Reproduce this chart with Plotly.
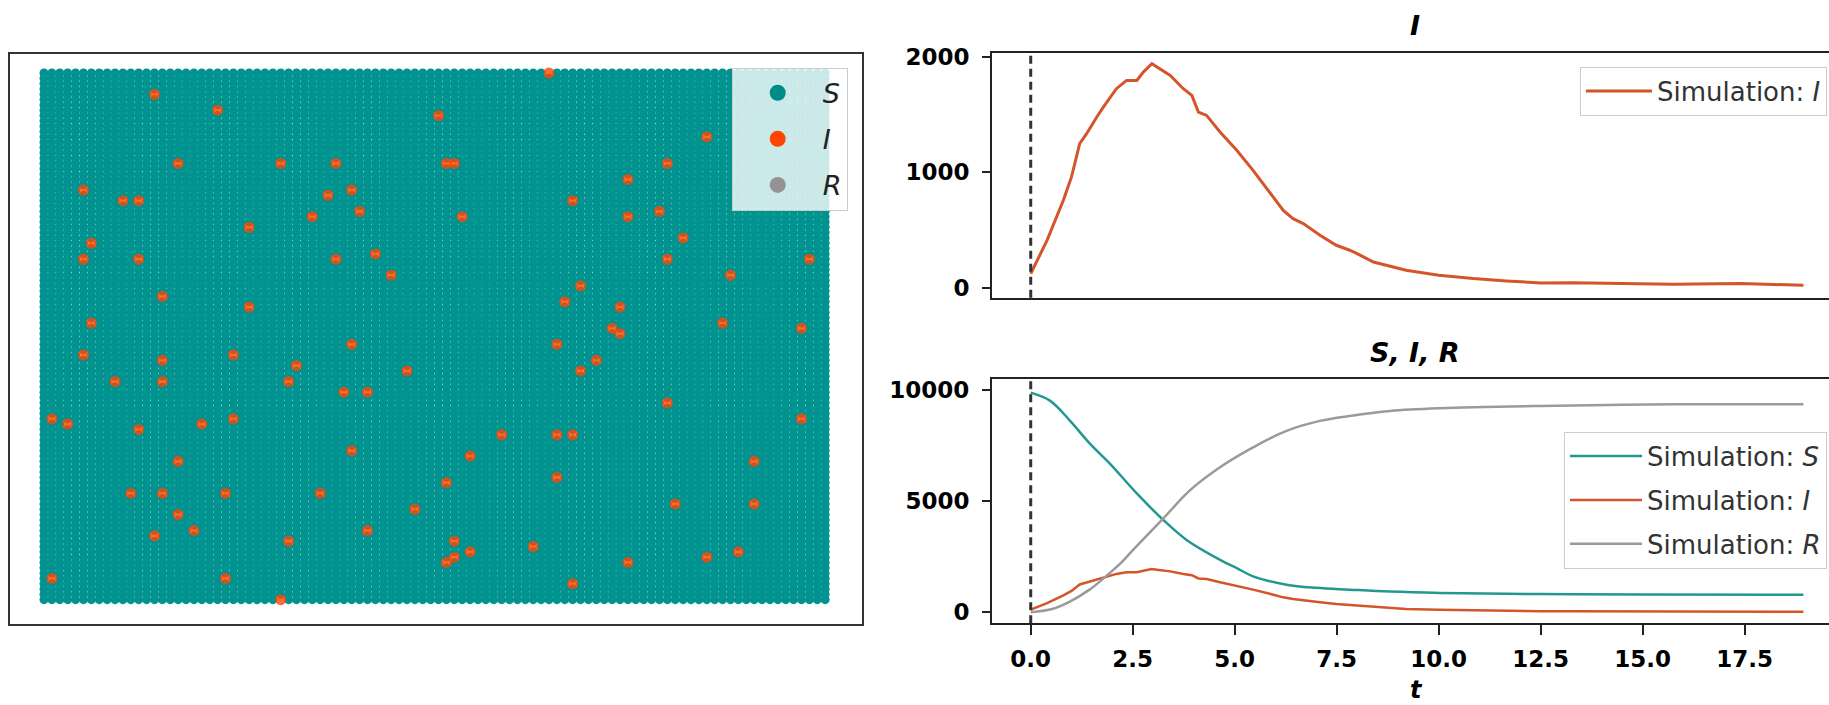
import plotly.graph_objects as go

# ---------------- data ----------------
GRID_SIDE = 100  # 100 x 100 lattice of agents

# initially infected agents (column, row counted from the top)
infected_col = [14, 22, 50, 17, 30, 37, 51, 52, 5, 10, 12, 36, 39, 40, 34, 53, 26, 6, 5, 12,
                42, 37, 44, 15, 26, 6, 39, 5, 15, 24, 32, 46, 9, 15, 64, 84, 79, 74, 67, 74,
                78, 81, 79, 97, 87, 68, 66, 73, 86, 96, 72, 73, 65, 70, 68, 31, 38, 41, 1, 3,
                12, 20, 24, 39, 17, 51, 11, 15, 23, 35, 17, 47, 19, 14, 41, 31, 52, 51, 52, 1,
                23, 30, 79, 96, 58, 65, 67, 54, 90, 65, 80, 90, 54, 62, 74, 84, 88, 67]
infected_row = [4, 7, 8, 17, 17, 17, 17, 17, 22, 24, 24, 23, 22, 26, 27, 27, 29, 32, 35, 35,
                34, 35, 38, 42, 44, 47, 51, 53, 54, 53, 55, 56, 58, 58, 0, 12, 17, 20, 24, 27,
                26, 31, 35, 35, 38, 40, 43, 44, 47, 48, 48, 49, 51, 54, 56, 58, 60, 60, 65, 66,
                67, 66, 65, 71, 73, 77, 79, 79, 79, 79, 83, 82, 86, 87, 86, 88, 88, 92, 91, 95,
                95, 99, 62, 65, 68, 68, 68, 72, 73, 76, 81, 81, 90, 89, 92, 91, 90, 96]

# simulated infected count I(t)
t_I = [0, 0.4, 0.8, 1.0, 1.2, 1.37, 1.62, 1.78, 2.1, 2.35,
       2.6, 2.76, 2.97, 3.09, 3.42, 3.74, 3.95, 4.11, 4.31, 4.64,
       5.05, 5.45, 5.86, 6.19, 6.43, 6.68, 7.09, 7.49, 7.82, 8.0,
       8.4, 9.2, 10.0, 10.85, 11.66, 12.5, 13.3, 14.1, 14.9, 15.75,
       16.6, 17.4, 18.2, 18.94]
I_vals = [120, 410, 757, 960, 1250, 1335, 1480, 1566, 1726, 1798,
          1798, 1870, 1943, 1914, 1841, 1726, 1668, 1523, 1494, 1350,
          1191, 1017, 829, 670, 598, 555, 454, 367, 324, 295,
          222, 150, 107, 78, 57, 40, 42, 40, 33, 29,
          32, 35, 27, 20]

# simulated susceptible count S(t)
t_S = [0, 0.47, 0.96, 1.45, 1.94, 2.6, 3.25, 3.82, 4.64, 5.05, 5.45, 6.27, 7.0, 7.82,
       8.8, 10.03, 12.5, 15.0, 18.94]
S_vals = [9900, 9540, 8640, 7600, 6700, 5354, 4157, 3260, 2363, 1987, 1614, 1242, 1100, 1018,
          930, 870, 820, 800, 790]

# simulated recovered count R(t)
t_R = [0, 0.5, 0.96, 1.45, 1.78, 2.2, 2.52, 3.25, 3.9, 4.64, 5.45, 6.27, 7.09, 7.82,
       8.81, 10.03, 12.48, 15.75, 18.94]
R_vals = [0, 130, 480, 1030, 1520, 2200, 2830, 4226, 5492, 6535, 7430, 8178, 8626, 8850,
          9074, 9194, 9297, 9373, 9373]

x_tick_vals = [0, 2.5, 5, 7.5, 10, 12.5, 15, 17.5]
x_tick_text = ["0.0", "2.5", "5.0", "7.5", "10.0", "12.5", "15.0", "17.5"]
top_y_ticks = [0, 1000, 2000]
top_y_text = ["0", "1000", "2000"]
bottom_y_ticks = [0, 5000, 10000]
bottom_y_text = ["0", "5000", "10000"]

# ---------------- colours ----------------
C_S_DOT = "#008b8b"
C_I_DOT = "#ff4500"
C_R_DOT = "#939393"
C_S_LINE = "#22998f"
C_I_LINE = "#d4542b"
C_R_LINE = "#9a9a9a"
AX = "#222222"

W, H = 1829, 705


def px_x(p):
    return p / W


def px_y(p):
    return 1 - p / H


# susceptible lattice cells = all cells not infected
inf_set = set(zip(infected_col, infected_row))
s_x, s_y = [], []
for r in range(GRID_SIDE):
    for c in range(GRID_SIDE):
        if (c, r) not in inf_set:
            s_x.append(c)
            s_y.append(r)

fig = go.Figure()

# ---- left: lattice ----
fig.add_trace(go.Scatter(x=s_x, y=s_y, mode="markers",
                         marker=dict(size=9, color="#009390", line=dict(width=0)),
                         showlegend=False, hoverinfo="skip", xaxis="x", yaxis="y"))
fig.add_trace(go.Scatter(x=infected_col, y=infected_row, mode="markers",
                         marker=dict(size=11, color=C_I_DOT, opacity=0.8, line=dict(width=0)),
                         showlegend=False, hoverinfo="skip", xaxis="x", yaxis="y"))
for nm, col in [("S", C_S_DOT), ("I", C_I_DOT), ("R", C_R_DOT)]:
    fig.add_trace(go.Scatter(x=[None], y=[None], mode="markers", name="<i>%s</i>" % nm,
                             marker=dict(size=20, color=col), legend="legend",
                             legendgroup="g" + nm, xaxis="x", yaxis="y"))

# ---- top right: I ----
fig.add_trace(go.Scatter(x=t_I, y=I_vals, mode="lines", name="Simulation: <i>I</i>",
                         line=dict(color=C_I_LINE, width=3), legend="legend2",
                         xaxis="x2", yaxis="y2"))

# ---- bottom right: S, I, R ----
fig.add_trace(go.Scatter(x=t_S, y=S_vals, mode="lines", name="Simulation: <i>S</i>",
                         line=dict(color=C_S_LINE, width=2.5, shape="spline"),
                         legend="legend3", legendgroup="b1", xaxis="x3", yaxis="y3"))
fig.add_trace(go.Scatter(x=t_I, y=I_vals, mode="lines", name="Simulation: <i>I</i>",
                         line=dict(color=C_I_LINE, width=2.5),
                         legend="legend3", legendgroup="b2", xaxis="x3", yaxis="y3"))
fig.add_trace(go.Scatter(x=t_R, y=R_vals, mode="lines", name="Simulation: <i>R</i>",
                         line=dict(color=C_R_LINE, width=2.5, shape="spline"),
                         legend="legend3", legendgroup="b3", xaxis="x3", yaxis="y3"))

box = dict(showline=True, mirror=True, linecolor="#333333", linewidth=2,
           showgrid=False, zeroline=False, ticks="", showticklabels=False, automargin=False)

tickfont = dict(family="DejaVu Sans", size=23, color="black", weight="bold")
t_range = [-0.949, 19.566]
right_dom = [px_x(992), 1.0]

fig.update_layout(
    width=W, height=H, autosize=False,
    margin=dict(l=0, r=0, t=0, b=0, pad=0, autoexpand=False),
    paper_bgcolor="white", plot_bgcolor="white",
    font=dict(family="DejaVu Sans", color="#333333"),
    xaxis=dict(domain=[px_x(10), px_x(862)], range=[-4.31, 103.67], anchor="y", **box),
    yaxis=dict(domain=[px_y(624), px_y(54)], range=[103.57, -3.57], anchor="x", **box),
    xaxis2=dict(domain=right_dom, range=t_range, anchor="y2", showline=True, mirror=True,
                linecolor=AX, linewidth=2, showgrid=False, zeroline=False, ticks="",
                showticklabels=False, automargin=False),
    yaxis2=dict(domain=[px_y(297.7), px_y(53.3)], range=[-88, 2033], anchor="x2",
                showline=True, linecolor=AX, linewidth=2, showgrid=False, zeroline=False,
                ticks="outside", ticklen=8, tickwidth=2, tickcolor=AX,
                tickvals=top_y_ticks, ticktext=top_y_text, tickfont=tickfont,
                ticklabelstandoff=8, automargin=False),
    xaxis3=dict(domain=right_dom, range=t_range, anchor="y3", showline=True, mirror=True,
                linecolor=AX, linewidth=2, showgrid=False, zeroline=False,
                ticks="outside", ticklen=10, tickwidth=2, tickcolor=AX,
                tickvals=x_tick_vals, ticktext=x_tick_text, tickfont=tickfont,
                ticklabelstandoff=4, automargin=False),
    yaxis3=dict(domain=[px_y(623.3), px_y(379.3)], range=[-500, 10500], anchor="x3",
                showline=True, linecolor=AX, linewidth=2, showgrid=False, zeroline=False,
                ticks="outside", ticklen=8, tickwidth=2, tickcolor=AX,
                tickvals=bottom_y_ticks, ticktext=bottom_y_text, tickfont=tickfont,
                ticklabelstandoff=8, automargin=False),
    legend=dict(x=px_x(847.7), xanchor="right", y=px_y(67.7), yanchor="top",
                bgcolor="rgba(255,255,255,0.8)", bordercolor="#cccccc", borderwidth=1,
                font=dict(size=27, color="#222222"), itemwidth=80, tracegroupgap=8,
                traceorder="grouped"),
    legend2=dict(x=px_x(1827), xanchor="right", y=px_y(66.7), yanchor="top",
                 bgcolor="rgba(255,255,255,0.8)", bordercolor="#cccccc", borderwidth=1,
                 font=dict(size=26, color="#333333"), itemwidth=66),
    legend3=dict(x=px_x(1827), xanchor="right", y=px_y(431.7), yanchor="top",
                 bgcolor="rgba(255,255,255,0.8)", bordercolor="#cccccc", borderwidth=1,
                 font=dict(size=26, color="#333333"), itemwidth=72, tracegroupgap=7,
                 traceorder="grouped"),
    shapes=[
        dict(type="line", xref="x2", yref="y2 domain", x0=0, x1=0, y0=0, y1=1,
             line=dict(color="#333333", width=3, dash="8px,5px")),
        dict(type="line", xref="x3", yref="y3 domain", x0=0, x1=0, y0=0, y1=1,
             line=dict(color="#333333", width=3, dash="8px,5px")),
    ],
    annotations=[
        dict(text="<b><i>I</i></b>", x=px_x(1415), y=px_y(25), xref="paper", yref="paper",
             showarrow=False, font=dict(size=27, color="black"), xanchor="center",
             yanchor="middle"),
        dict(text="<b><i>S, I, R</i></b>", x=px_x(1415), y=px_y(353), xref="paper",
             yref="paper", showarrow=False, font=dict(size=27, color="black"),
             xanchor="center", yanchor="middle"),
        dict(text="<b><i>t</i></b>", x=px_x(1416), y=0, xref="paper", yref="paper",
             showarrow=False, font=dict(size=24, color="black"), xanchor="center",
             yanchor="bottom", borderpad=0),
    ],
)

fig.write_html("out.html", config={"displayModeBar": False},
               post_script="document.body.style.margin='0';document.body.style.overflow='hidden';")
